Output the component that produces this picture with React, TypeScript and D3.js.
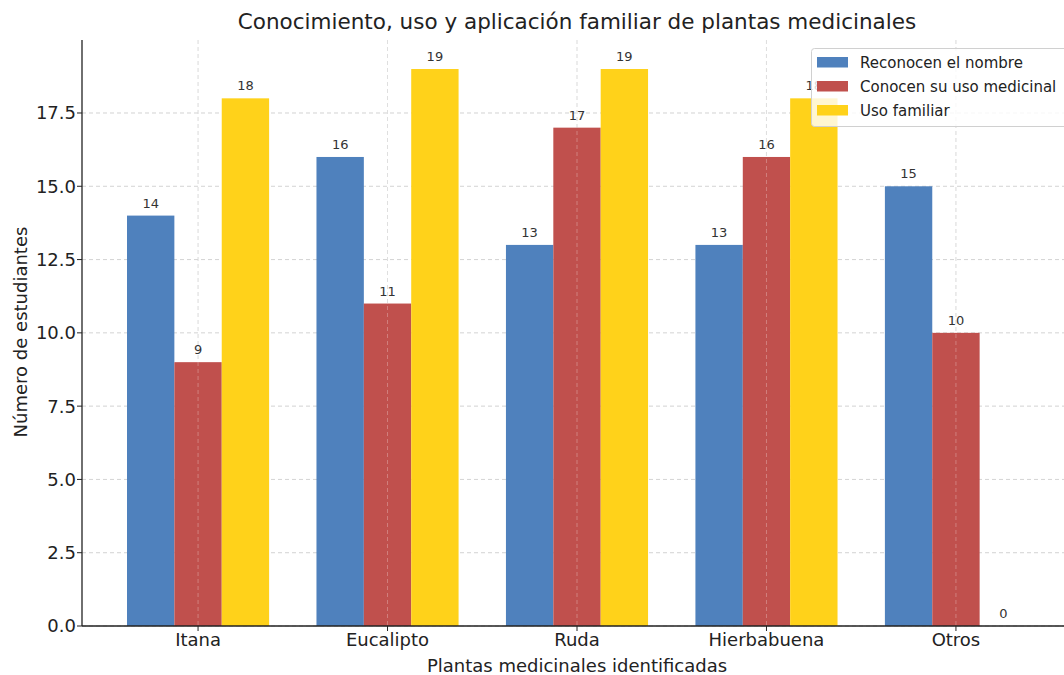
import React from "react";
import * as d3 from "d3";

const categories = ["Itana", "Eucalipto", "Ruda", "Hierbabuena", "Otros"];
const seriesNames = ["Reconocen el nombre", "Conocen su uso medicinal", "Uso familiar"];
const reconocen = [14, 16, 13, 13, 15];
const conocenUso = [9, 11, 17, 16, 10];
const usoFamiliar = [18, 19, 19, 18, 0];
const seriesColors = ["#4F81BD", "#C0504D", "#FFD21A"];
const yTicks = [0, 2.5, 5, 7.5, 10, 12.5, 15, 17.5];

const W = 1064;
const H = 675;
const left = 82;
const right = 1072;
const top = 40;
const bottom = 626;
const font = "DejaVu Sans, sans-serif";

export default function App() {
  const series = [reconocen, conocenUso, usoFamiliar];
  const x = d3.scaleLinear().domain([-0.6125, categories.length - 1 + 0.6125]).range([left, right]);
  const y = d3.scaleLinear().domain([0, 19.99]).range([bottom, top]);
  const bw = x(0.25) - x(0);

  return (
    <svg width={W} height={H} style={{ position: "absolute", left: 0, top: 0 }} fontFamily={font}>
      <rect width={W} height={H} fill="#fff" />
      {yTicks.map((t) => (
        <line key={"hg" + t} x1={left} x2={right} y1={y(t)} y2={y(t)} stroke="#c8c8c8" strokeDasharray="4,3" strokeWidth={0.8} />
      ))}
      {categories.map((c, i) => (
        <line key={"vg" + c} x1={x(i)} x2={x(i)} y1={top} y2={bottom} stroke="#c8c8c8" strokeDasharray="4,3" strokeWidth={0.8} />
      ))}
      {series.map((vals, s) =>
        vals.map((v, i) => {
          const cx = x(i) + (s - 1) * bw;
          return (
            <rect key={`b${s}-${i}`} x={cx - bw / 2} y={y(v)} width={bw} height={bottom - y(v)} fill={seriesColors[s]} />
          );
        })
      )}
      {categories.map((c, i) => (
        <line key={"vg2" + c} x1={x(i)} x2={x(i)} y1={top} y2={bottom} stroke="#ffffff" strokeOpacity={0.35} strokeDasharray="4,3" strokeWidth={0.8} />
      ))}
      {series.map((vals, s) =>
        vals.map((v, i) => {
          const cx = x(i) + (s - 1) * bw;
          return (
            <text key={`l${s}-${i}`} x={cx} y={y(v) - 8} textAnchor="middle" fontSize={13} fill="#333">
              {v}
            </text>
          );
        })
      )}
      <line x1={left} x2={left} y1={top} y2={bottom} stroke="#222" strokeWidth={1.3} />
      <line x1={left} x2={right} y1={bottom} y2={bottom} stroke="#222" strokeWidth={1.3} />
      {yTicks.map((t) => (
        <g key={"yt" + t}>
          <line x1={left - 5} x2={left} y1={y(t)} y2={y(t)} stroke="#222" strokeWidth={1} />
          <text x={left - 6} y={y(t)} dy="0.36em" textAnchor="end" fontSize={18} fill="#222">
            {t.toFixed(1)}
          </text>
        </g>
      ))}
      {categories.map((c, i) => (
        <g key={"xt" + c}>
          <line x1={x(i)} x2={x(i)} y1={bottom} y2={bottom + 5} stroke="#222" strokeWidth={1} />
          <text x={x(i)} y={bottom + 20} textAnchor="middle" fontSize={18} fill="#222">
            {c}
          </text>
        </g>
      ))}
      <text x={577} y={672} textAnchor="middle" fontSize={18} fill="#222">
        Plantas medicinales identificadas
      </text>
      <text transform={`translate(27,332) rotate(-90)`} textAnchor="middle" fontSize={18} fill="#222">
        Número de estudiantes
      </text>
      <text x={577} y={29} textAnchor="middle" fontSize={21.5} fill="#222">
        Conocimiento, uso y aplicación familiar de plantas medicinales
      </text>
      <g>
        <rect x={811.5} y={48.5} width={262} height={78} rx={3} fill="#fff" fillOpacity={0.8} stroke="#d0d0d0" />
        {seriesNames.map((n, s) => (
          <g key={"lg" + n}>
            <rect x={817} y={57 + s * 24} width={31} height={10.5} fill={seriesColors[s]} />
            <text x={860} y={62.5 + s * 24} dy="0.36em" fontSize={15} fill="#222">
              {n}
            </text>
          </g>
        ))}
      </g>
    </svg>
  );
}
